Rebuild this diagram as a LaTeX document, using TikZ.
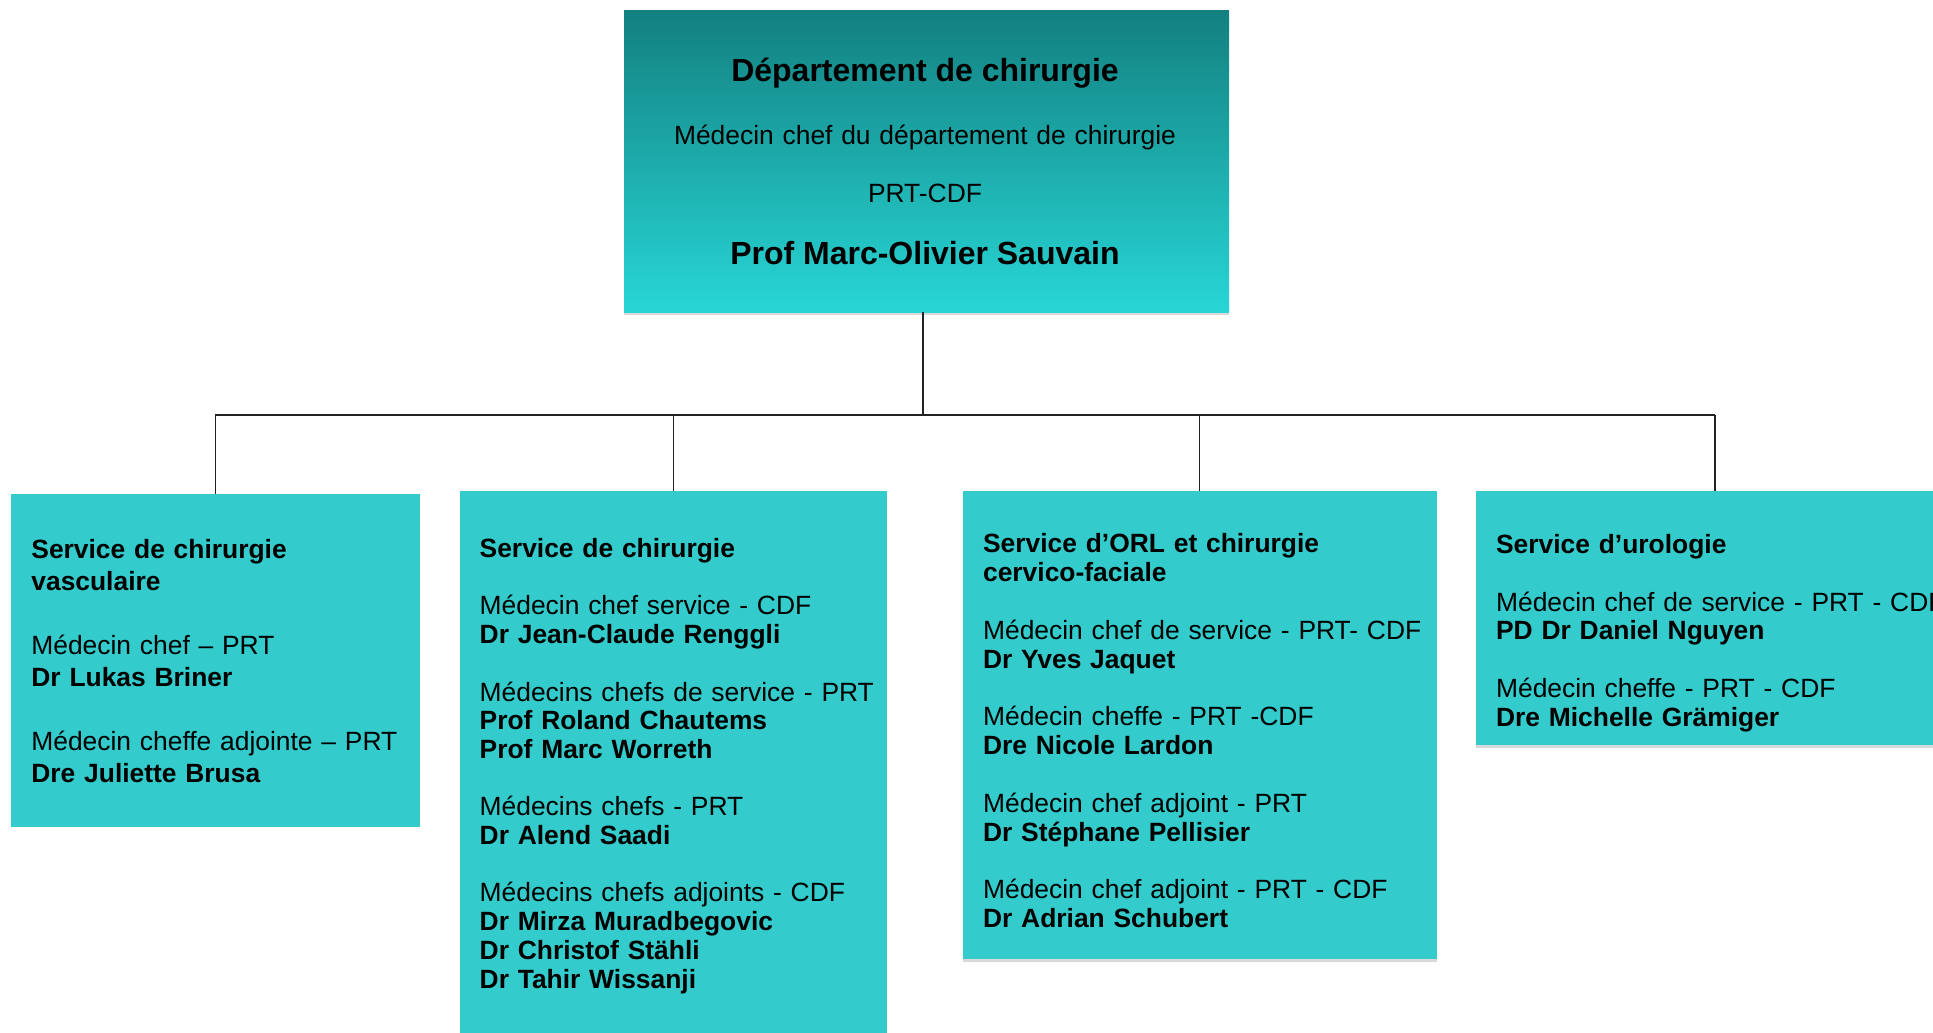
\documentclass[tikz,border=0pt]{standalone}
\usepackage{fontspec}
\setmainfont{Liberation Sans}
\usetikzlibrary{shadows}
\definecolor{deptdark}{RGB}{19,128,128}
\definecolor{deptlight}{RGB}{40,214,214}
\definecolor{svcfill}{RGB}{51,203,203}
\definecolor{linkgray}{RGB}{35,35,35}

\begin{document}
\begin{tikzpicture}[x=0.5pt,y=-0.5pt,
  unit/.style={inner sep=0pt,outer sep=0pt},
  svc/.style={unit,fill=svcfill},
  softshadow/.style={drop shadow={shadow xshift=0pt,shadow yshift=-1.5pt,opacity=0.3}},
  txt/.style={anchor=base west,inner sep=0pt,align=left,text width=300pt,font=\fontsize{13.2}{#1}\selectfont},
  link/.style={draw=linkgray,line width=0.65pt}]
\useasboundingbox (0,0) rectangle (1933,1033);
\clip (0,0) rectangle (1933,1033);
\node[unit,softshadow,top color=deptdark,bottom color=deptlight,minimum width=302.5pt,minimum height=151pt] (dept) at (926.5,161) {};
\node[svc,minimum width=204.5pt,minimum height=166.2pt] (vasc) at (215.5,660.5) {};
\node[svc,softshadow,minimum width=213.5pt,minimum height=277pt] (chir) at (673.5,768) {};
\node[svc,softshadow,minimum width=237.2pt,minimum height=234pt] (orl) at (1199.8,725) {};
\node[svc,softshadow,minimum width=239pt,minimum height=127pt] (uro) at (1715,618) {};
\node[anchor=base,inner sep=0pt,align=center,text width=300pt,font=\fontsize{13.2}{28.85}\selectfont] (deptT) at (925,81) {{\fontsize{16}{28.85}\selectfont\bfseries Département de chirurgie}\\[3.15pt] Médecin chef du département de chirurgie\\ PRT-CDF\\[1.95pt] {\fontsize{16}{28.85}\selectfont\bfseries Prof Marc-Olivier Sauvain\hspace*{7pt}}};
\node[txt=16pt] (vascT) at (31,558.5) {\textbf{Service de chirurgie}\\ \textbf{vasculaire}\\[16pt] Médecin chef – PRT\\ \textbf{Dr Lukas Briner}\\[16pt] Médecin cheffe adjointe – PRT\\ \textbf{Dre Juliette Brusa}};
\node[txt=14.35pt] (chirT) at (479.3,557.5) {\textbf{Service de chirurgie}\\[14.35pt] Médecin chef service - CDF\\ \textbf{Dr Jean-Claude Renggli}\\[14.35pt] Médecins chefs de service - PRT\\ \textbf{Prof Roland Chautems}\\ \textbf{Prof Marc Worreth}\\[14.35pt] Médecins chefs - PRT\\ \textbf{Dr Alend Saadi}\\[14.35pt] Médecins chefs adjoints - CDF\\ \textbf{Dr Mirza Muradbegovic}\\ \textbf{Dr Christof Stähli}\\ \textbf{Dr Tahir Wissanji}};
\node[txt=14.42pt] (orlT) at (982.7,552.7) {\textbf{Service d’ORL et chirurgie}\\ \textbf{cervico-faciale}\\[14.42pt] Médecin chef de service - PRT- CDF\\ \textbf{Dr Yves Jaquet}\\[14.42pt] Médecin cheffe - PRT -CDF\\ \textbf{Dre Nicole Lardon}\\[14.42pt] Médecin chef adjoint - PRT\\ \textbf{Dr Stéphane Pellisier}\\[14.42pt] Médecin chef adjoint - PRT - CDF\\ \textbf{Dr Adrian Schubert}};
\node[txt=14.4pt] (uroT) at (1495.7,553.5) {\textbf{Service d’urologie}\\[14.4pt] Médecin chef de service - PRT - CDF\\ \textbf{PD Dr Daniel Nguyen}\\[14.4pt] Médecin cheffe - PRT - CDF\\ \textbf{Dre Michelle Grämiger}};
\coordinate (busL) at (215,415);
\coordinate (busR) at (1715,415);
\draw[link] ([xshift=-1.75pt]dept.south) -- ([xshift=-1.75pt]dept.south |- busL);
\draw[link,line width=0.9pt] (busL) -- (busR);
\foreach \s in {vasc,chir,orl,uro} \draw[link] (\s.north |- busL) -- (\s.north);
\end{tikzpicture}
\end{document}
